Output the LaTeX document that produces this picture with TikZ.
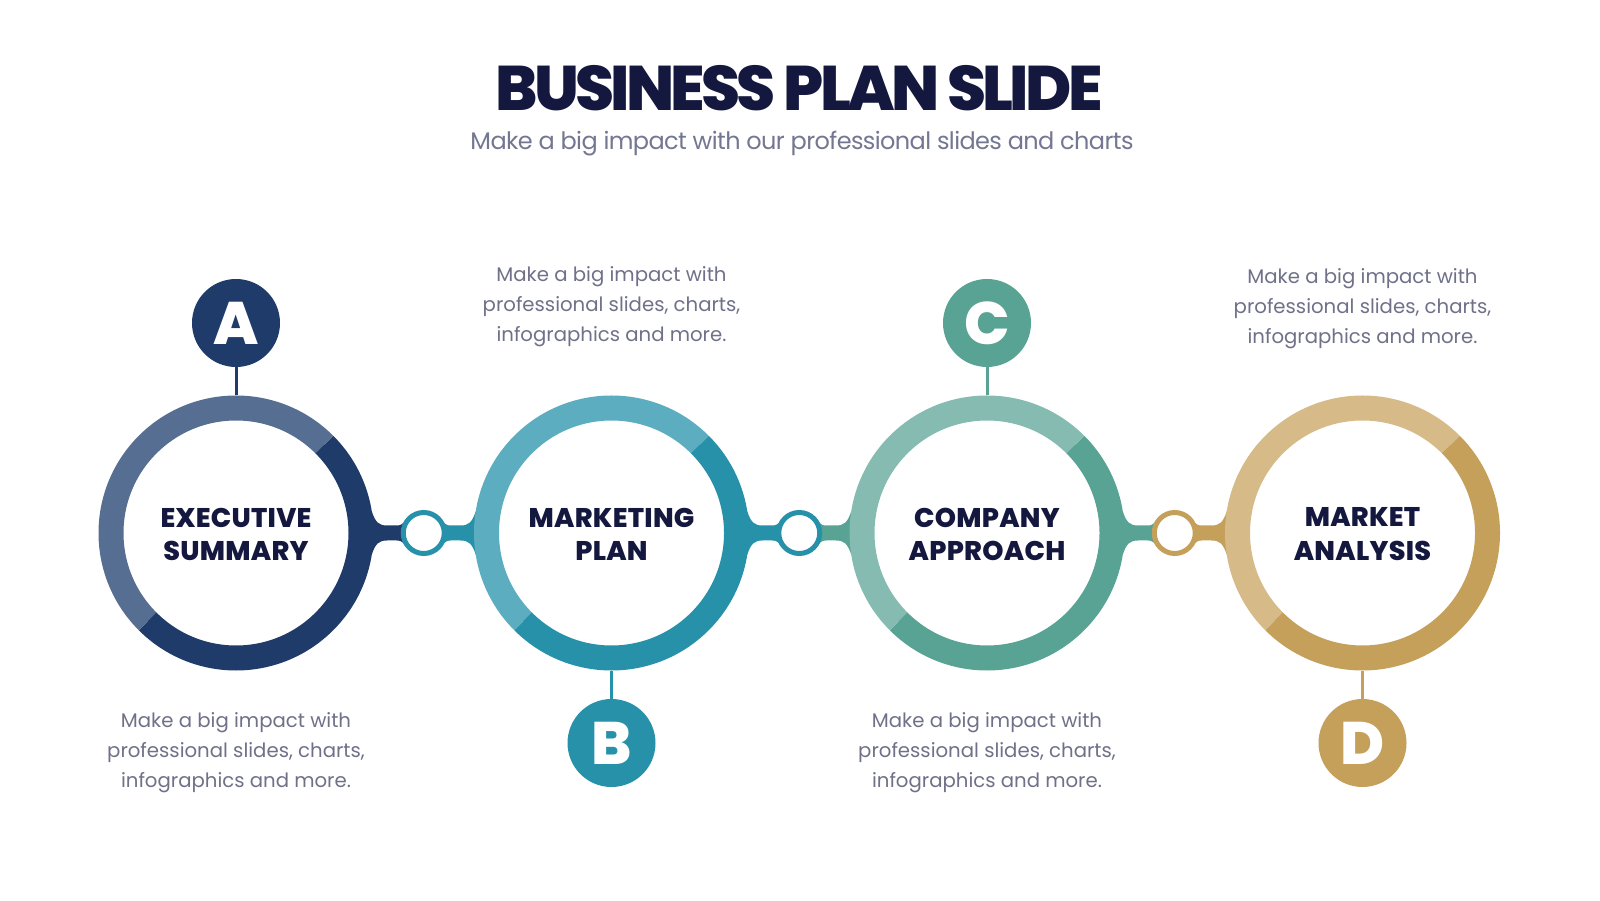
\documentclass[tikz,border=0pt]{standalone}
\usepackage{fontspec}
\setmainfont{Poppins}
\newfontfamily\xbfont{Poppins ExtraBold}
\definecolor{titlec}{HTML}{14183F}
\definecolor{subc}{HTML}{737791}
\definecolor{descc}{HTML}{6F7189}
\definecolor{lblc}{HTML}{14183F}
\definecolor{Adark}{HTML}{1F3B6A}
\definecolor{Alight}{HTML}{576E93}
\definecolor{Bdark}{HTML}{2691A9}
\definecolor{Blight}{HTML}{5CADC0}
\definecolor{Cdark}{HTML}{58A394}
\definecolor{Clight}{HTML}{86BBB1}
\definecolor{Ddark}{HTML}{C5A05B}
\definecolor{Dlight}{HTML}{D6BA88}
% left bridge: #1 big circle x, #2 small ring x, #3 colour
\newcommand{\mybridgeL}[3]{%
  \fill[#3] (#1+118,397) -- (#1+135.8,388.5) .. controls (#1+139.5,377.5) and (#1+143,374.5) .. (#1+151,374.5)
   -- (#2-27,374.5) .. controls (#2-23,374.5) and (#2-21,376) .. (#2-19,379) -- (#2,379) -- (#2,355)
   -- (#2-19,355) .. controls (#2-21,358) and (#2-23,359.5) .. (#2-27,359.5)
   -- (#1+151,359.5) .. controls (#1+143,359.5) and (#1+139.5,356.5) .. (#1+135.8,345.5) -- (#1+118,337) -- cycle;}
% right bridge: #1 small ring x, #2 big circle x, #3 colour
\newcommand{\mybridgeR}[3]{%
  \fill[#3] (#2-118,397) -- (#2-135.8,388.5) .. controls (#2-139.5,377.5) and (#2-143,374.5) .. (#2-151,374.5)
   -- (#1+27,374.5) .. controls (#1+23,374.5) and (#1+21,376) .. (#1+19,379) -- (#1,379) -- (#1,355)
   -- (#1+19,355) .. controls (#1+21,358) and (#1+23,359.5) .. (#1+27,359.5)
   -- (#2-151,359.5) .. controls (#2-143,359.5) and (#2-139.5,356.5) .. (#2-135.8,345.5) -- (#2-118,337) -- cycle;}
% ring: #1 node name, #2 light, #3 dark
\newcommand{\myring}[3]{%
  \draw[line width=25,#2] (#1.center) ++(45:125) arc[start angle=45,end angle=225,radius=125];
  \draw[line width=25,#3] (#1.center) ++(225:125) arc[start angle=225,end angle=405,radius=125];}
\begin{document}
\begin{tikzpicture}[x=1pt,y=1pt,
  bigc/.style={circle,minimum size=275,inner sep=0},
  smallr/.style={circle,draw=#1,line width=5,fill=white,minimum size=41,inner sep=0},
  letterc/.style={circle,fill=#1,minimum size=88,inner sep=0,text=white,font=\xbfont\fontsize{60}{60}\selectfont},
  stem/.style={line width=3,draw=#1},
  lbl/.style={align=center,text=lblc,font=\xbfont\fontsize{27}{33.3}\selectfont\addfontfeatures{LetterSpace=1},inner sep=0},
  desc/.style={align=center,text=descc,font=\fontsize{19.7}{30}\selectfont,inner sep=0,anchor=base}]
\useasboundingbox (0,0) rectangle (1600,900);
\fill[white] (0,0) rectangle (1600,900);
% title
\node[anchor=base,text=titlec,inner sep=0,font=\xbfont\fontsize{63}{63}\selectfont\addfontfeatures{LetterSpace=-6}] (title) at (799,789.3) {BUSINESS PLAN SLIDE};
\node[anchor=base,text=subc,inner sep=0,font=\fontsize{24}{24}\selectfont\addfontfeatures{LetterSpace=-2.5}] (sub) at (802,750) {Make a big impact with our professional slides and charts};
% big circle anchors
\node[bigc] (ea) at (236,367) {};
\node[bigc] (eb) at (611.5,367) {};
\node[bigc] (ec) at (987,367) {};
\node[bigc] (ed) at (1362.5,367) {};
% bridges
\mybridgeL{236}{423.75}{Adark}
\mybridgeR{423.75}{611.5}{Bdark}
\mybridgeL{611.5}{799.25}{Bdark}
\mybridgeR{799.25}{987}{Cdark}
\mybridgeL{987}{1174.75}{Cdark}
\mybridgeR{1174.75}{1362.5}{Ddark}
% rings
\myring{ea}{Alight}{Adark}
\myring{eb}{Blight}{Bdark}
\myring{ec}{Clight}{Cdark}
\myring{ed}{Dlight}{Ddark}
% small rings
\node[smallr=Bdark] (s1) at (423.75,367) {};
\node[smallr=Bdark] (s2) at (799.25,367) {};
\node[smallr=Ddark] (s3) at (1174.75,367) {};
% letter circles
\node[letterc=Adark] (la) at (236,577) {A};
\node[letterc=Bdark] (lb) at (611.5,157) {B};
\node[letterc=Cdark] (lc) at (987,577) {C};
\node[letterc=Ddark] (ld) at (1362.5,157) {D};
\draw[stem=Adark] (la) -- (ea);
\draw[stem=Bdark] (lb) -- (eb);
\draw[stem=Cdark] (lc) -- (ec);
\draw[stem=Ddark] (ld) -- (ed);
% labels
\node[lbl] (ta) at (236,365.8) {EXECUTIVE\\SUMMARY};
\node[lbl] (tb) at (611.5,365.8) {MARKETING\\PLAN};
\node[lbl] (tc) at (987,365.8) {COMPANY\\APPROACH};
\node[lbl] (td) at (1362.5,365.8) {MARKET\\ANALYSIS};
% descriptions (base = last line)
\node[desc] (da) at (236,112.7) {Make a big impact with\\professional slides, charts,\\infographics and more.};
\node[desc] (db) at (611.5,558.3) {Make a big impact with\\professional slides, charts,\\infographics and more.};
\node[desc] (dc) at (987,112.7) {Make a big impact with\\professional slides, charts,\\infographics and more.};
\node[desc] (dd) at (1362.5,556.3) {Make a big impact with\\professional slides, charts,\\infographics and more.};
\end{tikzpicture}
\end{document}
